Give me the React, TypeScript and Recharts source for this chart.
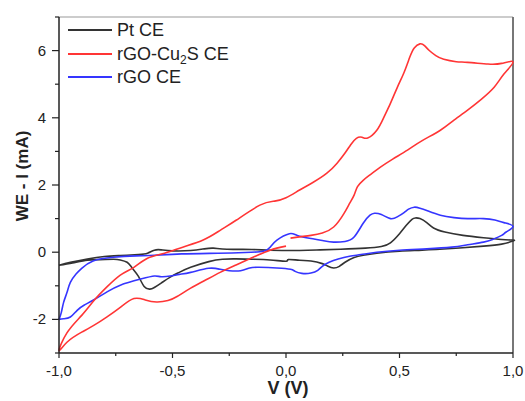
import { Line, LineChart, ReferenceLine, XAxis, YAxis } from "recharts";

const FONT = '"Liberation Sans", Arial, Helvetica, sans-serif';
const INK = "#222";

// Pt CE loop (V, mA)
const ptV = [
  -1.0, -0.95, -0.875, -0.8, -0.73, -0.65, -0.61, -0.58, -0.55, -0.5,
  -0.42, -0.36, -0.32, -0.26, -0.15, -0.07, 0.06, 0.15, 0.24, 0.35,
  0.42, 0.46, 0.5, 0.53, 0.555, 0.57, 0.59, 0.62, 0.65, 0.7,
  0.78, 0.87, 0.95, 1.0,
  1.0, 0.95, 0.87, 0.73, 0.6, 0.5, 0.4, 0.34, 0.3, 0.26,
  0.235, 0.21, 0.185, 0.16, 0.11, 0.06, 0.01, 0.0, -0.07, -0.15,
  -0.22, -0.28, -0.34, -0.42, -0.47, -0.51, -0.55, -0.58, -0.6, -0.625,
  -0.65, -0.68, -0.7, -0.73, -0.76, -0.82, -0.875, -0.94, -1.0,
];
const ptI = [
  -0.39, -0.3, -0.2, -0.13, -0.1, -0.07, -0.03, 0.06, 0.07, 0.04,
  0.05, 0.1, 0.12, 0.09, 0.08, 0.06, 0.05, 0.07, 0.09, 0.12,
  0.17, 0.28, 0.55, 0.8, 0.98, 1.02, 1.0, 0.88, 0.72, 0.6,
  0.5, 0.43, 0.38, 0.36,
  0.33, 0.24, 0.18, 0.11, 0.06, 0.03, -0.03, -0.09, -0.16, -0.3,
  -0.42, -0.47, -0.42, -0.34, -0.26, -0.24, -0.22, -0.27, -0.23, -0.21,
  -0.2, -0.21, -0.28, -0.45, -0.6, -0.74, -0.92, -1.05, -1.1, -1.02,
  -0.72, -0.45, -0.3, -0.23, -0.21, -0.22, -0.24, -0.32, -0.39,
];

// rGO-Cu2S CE loop
const cuV = [
  0.0, -0.07, -0.145, -0.22, -0.29, -0.36, -0.42, -0.48, -0.52, -0.57,
  -0.62, -0.67, -0.73, -0.79, -0.845, -0.9, -0.965, -1.0,
  -0.965, -0.9, -0.845, -0.79, -0.73, -0.67, -0.61, -0.535, -0.455, -0.365,
  -0.29, -0.22, -0.115, -0.05, 0.0, 0.06, 0.12, 0.18, 0.225, 0.26,
  0.285, 0.31, 0.335, 0.36, 0.4, 0.43, 0.46, 0.49, 0.52, 0.545,
  0.565, 0.59, 0.61, 0.63, 0.66, 0.695, 0.75, 0.8, 0.89, 0.95, 1.0,
  0.96, 0.917, 0.86, 0.8, 0.74, 0.68, 0.6, 0.535, 0.47, 0.416,
  0.37, 0.34, 0.315, 0.3, 0.28, 0.255, 0.21, 0.16, 0.11, 0.02,
];
const cuI = [
  0.18, 0.06, -0.15, -0.38, -0.6, -0.85, -1.07, -1.32, -1.44, -1.48,
  -1.42, -1.38, -1.64, -1.93, -2.17, -2.38, -2.68, -2.92,
  -2.4, -1.88, -1.43, -1.04, -0.68, -0.45, -0.18, -0.03, 0.15, 0.36,
  0.65, 0.95, 1.4, 1.52, 1.62, 1.85, 2.08, 2.35, 2.65, 2.95,
  3.2, 3.39, 3.42, 3.4, 3.63, 4.0, 4.43, 4.9, 5.35, 5.8,
  6.08, 6.2, 6.15, 6.01, 5.85, 5.74, 5.67, 5.65, 5.6, 5.62, 5.66,
  5.3, 4.91, 4.55, 4.23, 3.93, 3.63, 3.32, 3.04, 2.77, 2.53,
  2.3, 2.14, 1.95, 1.7, 1.45, 1.15, 0.75, 0.57, 0.5, 0.42,
];

// rGO CE loop
const goV = [
  -1.0, -0.99, -0.98, -0.965, -0.95, -0.925, -0.9, -0.85, -0.76, -0.66,
  -0.58, -0.46, -0.3, -0.18, -0.1, -0.07, -0.04, 0.015, 0.05, 0.11,
  0.16, 0.21, 0.26, 0.3, 0.34, 0.37, 0.39, 0.42, 0.46, 0.49,
  0.52, 0.54, 0.565, 0.59, 0.62, 0.68, 0.74, 0.8, 0.87, 0.92,
  0.96, 1.0,
  0.97, 0.95, 0.91, 0.87, 0.8, 0.73, 0.62, 0.5, 0.4, 0.33,
  0.28, 0.23, 0.19, 0.16, 0.14, 0.11, 0.07, 0.04, 0.02, -0.04,
  -0.12, -0.16, -0.2, -0.25, -0.29, -0.34, -0.42, -0.47, -0.51, -0.55,
  -0.58, -0.64, -0.73, -0.79, -0.85, -0.89, -0.92, -0.95, -0.98, -1.0,
];
const goI = [
  -2.0, -1.8, -1.5, -1.2, -0.9, -0.65, -0.48, -0.26, -0.15, -0.11,
  -0.09, -0.05, -0.03, -0.01, 0.03, 0.15, 0.36, 0.55, 0.5, 0.41,
  0.35, 0.3, 0.32, 0.45, 0.86, 1.1, 1.16, 1.12, 1.0, 1.05,
  1.18, 1.28, 1.34, 1.31, 1.24, 1.1, 1.03, 1.0, 1.0, 0.96,
  0.88, 0.77,
  0.6, 0.5, 0.38, 0.3, 0.22, 0.15, 0.1, 0.06, 0.0, -0.07,
  -0.12, -0.2, -0.3, -0.42, -0.54, -0.62, -0.63, -0.57, -0.51, -0.47,
  -0.45, -0.47, -0.55, -0.55, -0.51, -0.48, -0.6, -0.66, -0.71, -0.73,
  -0.71, -0.8, -0.98, -1.19, -1.43, -1.58, -1.73, -1.93, -1.98, -2.0,
];

const xMajor = [-1, -0.5, 0, 0.5, 1];
const xMinor = [-0.75, -0.25, 0.25, 0.75];
const yMajor = [-2, 0, 2, 4, 6];
const yMinor = [-3, -1, 1, 3, 5, 7];

const COLORS = { pt: "#333333", cu: "#ff3535", go: "#3535ff" };

const toRows = (v: number[], i: number[]) => v.map((x, k) => ({ v: x, i: i[k] }));

const fmtV = (n: number) => n.toFixed(1).replace(".", ",");

function XTick({ x, y, payload }: any) {
  const major = xMajor.includes(payload.value);
  return (
    <g>
      <line x1={x} x2={x} y1={y} y2={y + (major ? 5 : 3)} stroke={INK} strokeWidth={1.2} />
      {major && (
        <text x={x} y={y + 23} textAnchor="middle" fontSize={15} fontFamily={FONT} fill={INK}>
          {fmtV(payload.value)}
        </text>
      )}
    </g>
  );
}

function YTick({ x, y, payload }: any) {
  const major = yMajor.includes(payload.value);
  return (
    <g>
      <line x1={x} x2={x - (major ? 7 : 4)} y1={y} y2={y} stroke={INK} strokeWidth={1.2} />
      {major && (
        <text x={x - 13} y={y + 5} textAnchor="end" fontSize={15} fontFamily={FONT} fill={INK}>
          {payload.value}
        </text>
      )}
    </g>
  );
}

const legendItems = [
  { key: "pt", label: <>Pt CE</> },
  {
    key: "cu",
    label: (
      <>
        rGO-Cu<sub style={{ fontSize: 12, verticalAlign: "-4px", lineHeight: 0 }}>2</sub>S CE
      </>
    ),
  },
  { key: "go", label: <>rGO CE</> },
] as const;

export default function App() {
  return (
    <div style={{ position: "absolute", left: 0, top: 0, width: 525, height: 401, background: "#fff" }}>
      <LineChart width={525} height={401} margin={{ top: 17, right: 12, bottom: 0, left: 0 }}>
        <XAxis
          type="number"
          dataKey="v"
          domain={[-1, 1]}
          ticks={[...xMajor, ...xMinor].sort((a, b) => a - b)}
          interval={0}
          height={48}
          tickSize={0}
          tickMargin={0}
          tickLine={false}
          tick={<XTick />}
          axisLine={{ stroke: INK, strokeWidth: 1.5 }}
          allowDuplicatedCategory={false}
        />
        <YAxis
          type="number"
          dataKey="i"
          domain={[-3, 7]}
          ticks={[...yMajor, ...yMinor].sort((a, b) => a - b)}
          interval={0}
          width={59}
          tickSize={0}
          tickMargin={0}
          tickLine={false}
          tick={<YTick />}
          axisLine={{ stroke: INK, strokeWidth: 1.5 }}
        />
        <ReferenceLine y={7} stroke="#999" strokeWidth={1} />
        <ReferenceLine x={1} stroke="#777" strokeWidth={2} />
        <Line
          data={toRows(ptV, ptI)}
          dataKey="i"
          type="natural"
          stroke={COLORS.pt}
          strokeWidth={1.6}
          dot={false}
          isAnimationActive={false}
        />
        <Line
          data={toRows(goV, goI)}
          dataKey="i"
          type="natural"
          stroke={COLORS.go}
          strokeWidth={1.6}
          dot={false}
          isAnimationActive={false}
        />
        <Line
          data={toRows(cuV, cuI)}
          dataKey="i"
          type="natural"
          stroke={COLORS.cu}
          strokeWidth={1.6}
          dot={false}
          isAnimationActive={false}
        />
        <text
          x={288}
          y={394}
          textAnchor="middle"
          fontSize={18}
          fontWeight="bold"
          fontFamily={FONT}
          fill={INK}
        >
          V (V)
        </text>
        <text
          x={28}
          y={176}
          transform="rotate(-90 28 176)"
          textAnchor="middle"
          fontSize={17}
          fontWeight="bold"
          fontFamily={FONT}
          fill={INK}
        >
          WE - I (mA)
        </text>
      </LineChart>

      {legendItems.map((item, k) => (
        <div
          key={item.key}
          style={{
            position: "absolute",
            left: 68,
            top: 30 + k * 23.5 - 10,
            height: 20,
            display: "flex",
            alignItems: "center",
            fontFamily: FONT,
            fontSize: 18,
            lineHeight: 1,
            color: INK,
            whiteSpace: "nowrap",
          }}
        >
          <span style={{ width: 44, borderTop: `2px solid ${COLORS[item.key]}` }} />
          <span style={{ marginLeft: 5 }}>{item.label}</span>
        </div>
      ))}
    </div>
  );
}
